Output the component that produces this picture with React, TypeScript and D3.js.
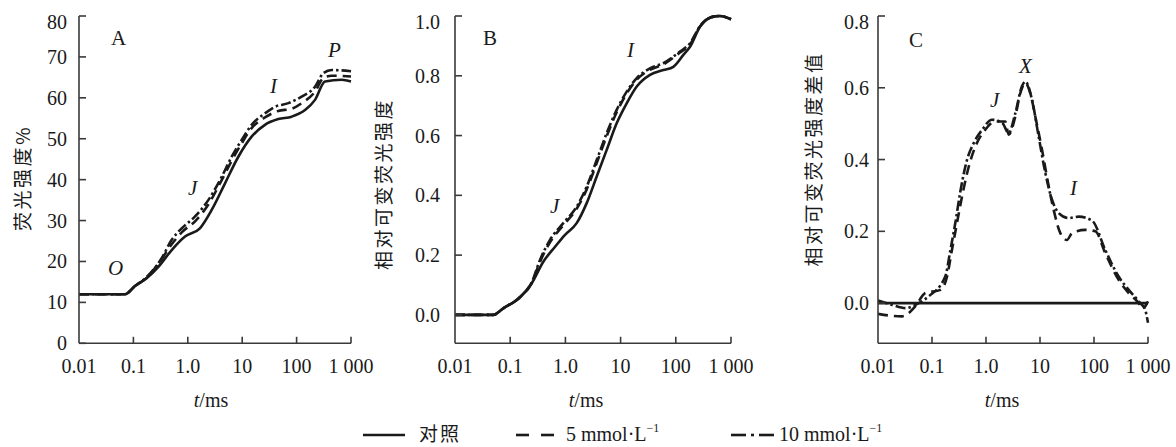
import React from "react";
import * as d3 from "d3";

// ---------- DATA ----------
const xTickValues = [0.01, 0.1, 1, 10, 100, 1000];
const xTickLabels = ["0.01", "0.1", "1.0", "10", "100", "1 000"];

const yTicksA = [0, 10, 20, 30, 40, 50, 60, 70, 80];
const yTickLabelsA = ["0", "10", "20", "30", "40", "50", "60", "70", "80"];
const yTicksB = [0, 0.2, 0.4, 0.6, 0.8, 1.0];
const yTickLabelsB = ["0.0", "0.2", "0.4", "0.6", "0.8", "1.0"];
const yTicksC = [0, 0.2, 0.4, 0.6, 0.8];
const yTickLabelsC = ["0.0", "0.2", "0.4", "0.6", "0.8"];

const seriesNames = ["对照", "5 mmol·L", "10 mmol·L"];

// Panel A: fluorescence intensity (%)
const aControl: [number, number][] = [
  [0.01, 12], [0.07, 12], [0.107, 14.0], [0.175, 15.9], [0.288, 18.7], [0.506, 22.8],
  [0.889, 26.1], [1.67, 28.1], [2.75, 32.6], [4.83, 39.1], [8.49, 45.6], [14.9, 50.5],
  [26.2, 53.4], [46.1, 54.8], [81.3, 55.4], [143, 57.0], [218, 59.5], [333, 64.0],
  [676, 64.4], [1000, 64.0],
];
const a5mM: [number, number][] = [
  [0.01, 12], [0.07, 12], [0.107, 14.0], [0.175, 16.0], [0.3, 19.8], [0.506, 24.2],
  [0.8, 27.3], [1.4, 30.0], [2.4, 34.0], [4.2, 39.9], [6.4, 44.6], [9.8, 48.9],
  [14.9, 52.6], [26.2, 55.2], [46, 56.8], [80, 57.3], [124, 58.7], [218, 61.5],
  [309, 64.8], [442, 65.4], [1000, 65.2],
];
const a10mM: [number, number][] = [
  [0.01, 12], [0.07, 12], [0.107, 14.0], [0.175, 16.2], [0.331, 20.8], [0.506, 25.3],
  [0.773, 28.1], [1.36, 31.0], [2.38, 35.0], [4.2, 40.7], [6.41, 45.6], [9.77, 49.7],
  [14.9, 53.4], [26.2, 56.2], [40.1, 57.8], [70.5, 58.7], [124, 60.3], [218, 62.7],
  [309, 66.0], [442, 66.8], [1000, 66.5],
];

// Panel B: relative variable fluorescence
const bControl: [number, number][] = [
  [0.01, 0], [0.049, 0], [0.075, 0.022], [0.151, 0.059], [0.245, 0.106], [0.398, 0.178],
  [0.649, 0.228], [0.984, 0.268], [1.6, 0.307], [2.43, 0.374], [3.69, 0.463], [5.6, 0.552],
  [8.49, 0.641], [12.9, 0.708], [19.6, 0.764], [34.1, 0.803], [59.4, 0.819], [90.2, 0.83],
  [137, 0.87], [181, 0.897], [274, 0.964], [479, 0.998], [631, 1.0], [1000, 0.989],
];
const b5mM: [number, number][] = [
  [0.01, 0], [0.049, 0], [0.075, 0.022], [0.151, 0.06], [0.245, 0.106], [0.347, 0.178],
  [0.526, 0.243], [0.916, 0.3], [1.6, 0.355], [2.43, 0.42], [3.69, 0.508], [5.6, 0.598],
  [8.49, 0.678], [12.9, 0.741], [19.6, 0.787], [34.1, 0.82], [59.4, 0.838], [119, 0.878],
  [181, 0.905], [274, 0.965], [479, 0.998], [631, 1.0], [1000, 0.989],
];
const b10mM: [number, number][] = [
  [0.01, 0], [0.049, 0], [0.075, 0.022], [0.151, 0.06], [0.245, 0.108], [0.347, 0.184],
  [0.526, 0.251], [0.916, 0.307], [1.6, 0.362], [2.43, 0.429], [3.69, 0.518], [5.6, 0.608],
  [8.49, 0.686], [12.9, 0.747], [19.6, 0.792], [34.1, 0.825], [59.4, 0.842], [119, 0.881],
  [181, 0.909], [274, 0.966], [479, 0.998], [631, 1.0], [1000, 0.989],
];

// Panel C: difference of relative variable fluorescence
const cControl: [number, number][] = [[0.01, 0], [1000, 0]];
const c5mM: [number, number][] = [
  [0.01, -0.03], [0.0278, -0.037], [0.049, -0.009], [0.0752, 0.028], [0.143, 0.037],
  [0.19, 0.074], [0.234, 0.148], [0.29, 0.223], [0.36, 0.297], [0.479, 0.38],
  [0.634, 0.436], [0.97, 0.483], [1.49, 0.506], [2.28, 0.506], [2.63, 0.469],
  [3.49, 0.52], [4.32, 0.585], [5.35, 0.613], [6.61, 0.585], [8.18, 0.52],
  [10.9, 0.427], [14.5, 0.325], [17.9, 0.26], [23.8, 0.195], [31.6, 0.176],
  [39.2, 0.195], [69.2, 0.204], [106, 0.2], [162, 0.139], [286, 0.065],
  [440, 0.028], [673, 0], [794, -0.015], [1000, 0.005],
];
const c10mM: [number, number][] = [
  [0.01, 0.007], [0.0182, -0.005], [0.0321, -0.014], [0.0568, 0.0], [0.0869, 0.019],
  [0.176, 0.074], [0.219, 0.148], [0.27, 0.223], [0.335, 0.311], [0.445, 0.399],
  [0.592, 0.446], [0.851, 0.483], [1.29, 0.511], [2.0, 0.502], [2.63, 0.474],
  [3.49, 0.529], [4.63, 0.604], [5.35, 0.617], [7.11, 0.567], [9.44, 0.464],
  [12.6, 0.362], [16.7, 0.288], [22.2, 0.251], [34, 0.237], [52, 0.241],
  [91.8, 0.23], [162, 0.148], [286, 0.074], [440, 0.037], [673, 0.005],
  [891, -0.02], [1000, -0.055],
];

// ---------- LAYOUT ----------
const W = 1176;
const H = 447;
const serif = "'Liberation Serif', 'DejaVu Serif', serif";
const cjk = "'Noto Sans CJK SC', 'Noto Sans CJK JP', sans-serif";
const ink = "#1a1a1a";
const axisInk = "#3a3a3a";
const dashStyles = ["none", "10,6", "10,3,2.5,3"];

type Panel = {
  x0: number; x1: number; yTop: number; yBottom: number;
  yDomain: [number, number]; yTicks: number[]; yTickLabels: string[];
  labelGap: number; series: [number, number][][];
  yLabel: string; yLabelX: number; yLabelY: number;
  letter: string; letterX: number; letterY: number;
  notes: { t: string; x: number; y: number }[];
  tmsX: number;
};

const panels: Panel[] = [
  {
    x0: 79, x1: 351, yTop: 16, yBottom: 343.3, yDomain: [0, 80],
    yTicks: yTicksA, yTickLabels: yTickLabelsA, labelGap: 12,
    series: [aControl, a5mM, a10mM],
    yLabel: "荧光强度%", yLabelX: 21, yLabelY: 178,
    letter: "A", letterX: 111, letterY: 45,
    notes: [
      { t: "O", x: 108, y: 275 }, { t: "J", x: 188, y: 195 },
      { t: "I", x: 270, y: 93 }, { t: "P", x: 328, y: 57 },
    ],
    tmsX: 211,
  },
  {
    x0: 455, x1: 731, yTop: 16, yBottom: 343.3, yDomain: [-0.095, 1.0],
    yTicks: yTicksB, yTickLabels: yTickLabelsB, labelGap: 15,
    series: [bControl, b5mM, b10mM],
    yLabel: "相对可变荧光强度", yLabelX: 382, yLabelY: 184,
    letter: "B", letterX: 483, letterY: 45,
    notes: [{ t: "J", x: 550, y: 213 }, { t: "I", x: 627, y: 57 }],
    tmsX: 586,
  },
  {
    x0: 878, x1: 1148, yTop: 16, yBottom: 343.3, yDomain: [-0.112, 0.8],
    yTicks: yTicksC, yTickLabels: yTickLabelsC, labelGap: 9,
    series: [cControl, c5mM, c10mM],
    yLabel: "相对可变荧光强度差值", yLabelX: 812, yLabelY: 159,
    letter: "C", letterX: 909, letterY: 47,
    notes: [
      { t: "J", x: 990, y: 107 }, { t: "X", x: 1019, y: 73 }, { t: "I", x: 1070, y: 195 },
    ],
    tmsX: 1002,
  },
];

function PanelView({ p }: { p: Panel }) {
  const xs = d3.scaleLog().domain([0.01, 1000]).range([p.x0, p.x1]);
  const ys = d3.scaleLinear().domain(p.yDomain).range([p.yBottom, p.yTop]);
  const top = ys(p.yTicks[p.yTicks.length - 1]);
  const line = d3
    .line<[number, number]>()
    .x((d) => xs(d[0]))
    .y((d) => ys(d[1]))
    .curve(d3.curveMonotoneX);
  return (
    <g>
      {p.series.map((s, i) => (
        <path
          key={i}
          d={line(s) || ""}
          fill="none"
          stroke={ink}
          strokeWidth={2.6}
          strokeDasharray={dashStyles[i]}
          strokeLinejoin="round"
        />
      ))}
      <line x1={p.x0} x2={p.x0} y1={top} y2={p.yBottom} stroke={axisInk} strokeWidth={1.6} />
      {p.yTicks.map((v, i) => (
        <g key={i}>
          <line x1={p.x0} x2={p.x0 + 7} y1={ys(v)} y2={ys(v)} stroke={axisInk} strokeWidth={1.6} />
          <text
            x={p.x0 - p.labelGap}
            y={ys(v) + (i === p.yTicks.length - 1 ? 6 : 0)}
            textAnchor="end"
            dominantBaseline="central"
            fontFamily={serif}
            fontSize={20}
            fill={ink}
          >
            {p.yTickLabels[i]}
          </text>
        </g>
      ))}
      <line x1={p.x0} x2={p.x1} y1={p.yBottom} y2={p.yBottom} stroke={axisInk} strokeWidth={1.6} />
      {xTickValues.map((v, i) => (
        <g key={i}>
          {i > 0 && (
            <line x1={xs(v)} x2={xs(v)} y1={p.yBottom} y2={p.yBottom - 6.5} stroke={axisInk} strokeWidth={1.6} />
          )}
          <text x={xs(v)} y={373} textAnchor="middle" fontFamily={serif} fontSize={20} fill={ink}>
            {xTickLabels[i]}
          </text>
        </g>
      ))}
      <text x={p.tmsX} y={407} textAnchor="middle" fontFamily={serif} fontSize={20} fill={ink}>
        <tspan fontStyle="italic">t</tspan>/ms
      </text>
      <text
        transform={`translate(${p.yLabelX},${p.yLabelY}) rotate(-90)`}
        textAnchor="middle"
        dominantBaseline="central"
        fontFamily={cjk}
        fontSize={19}
        letterSpacing={2.5}
        fill={ink}
      >
        {p.yLabel}
      </text>
      <text x={p.letterX} y={p.letterY} fontFamily={serif} fontSize={21} fill={ink}>
        {p.letter}
      </text>
      {p.notes.map((n, i) => (
        <text key={i} x={n.x} y={n.y} fontFamily={serif} fontStyle="italic" fontSize={21} fill={ink}>
          {n.t}
        </text>
      ))}
    </g>
  );
}

function Legend() {
  const y = 435;
  return (
    <g fontSize={20} fill={ink}>
      <line x1={363} x2={405} y1={y} y2={y} stroke={ink} strokeWidth={2.6} />
      <text x={419} y={y + 6} fontFamily={cjk} fontSize={19} letterSpacing={2}>
        {seriesNames[0]}
      </text>
      <line x1={516} x2={529} y1={y} y2={y} stroke={ink} strokeWidth={2.6} />
      <line x1={541} x2={554} y1={y} y2={y} stroke={ink} strokeWidth={2.6} />
      <text x={566} y={y + 6} fontFamily={serif}>
        {seriesNames[1]}
        <tspan fontSize={12} dy={-9}>−1</tspan>
      </text>
      <line x1={731} x2={746} y1={y} y2={y} stroke={ink} strokeWidth={2.6} />
      <line x1={751} x2={754} y1={y} y2={y} stroke={ink} strokeWidth={2.6} />
      <line x1={759} x2={774} y1={y} y2={y} stroke={ink} strokeWidth={2.6} />
      <text x={779} y={y + 6} fontFamily={serif}>
        {seriesNames[2]}
        <tspan fontSize={12} dy={-9}>−1</tspan>
      </text>
    </g>
  );
}

export default function App() {
  return (
    <svg
      width={W}
      height={H}
      viewBox={`0 0 ${W} ${H}`}
      style={{ position: "absolute", left: 0, top: 0, background: "#fff" }}
    >
      <rect width={W} height={H} fill="#fff" />
      {panels.map((p, i) => (
        <PanelView key={i} p={p} />
      ))}
      <Legend />
    </svg>
  );
}
